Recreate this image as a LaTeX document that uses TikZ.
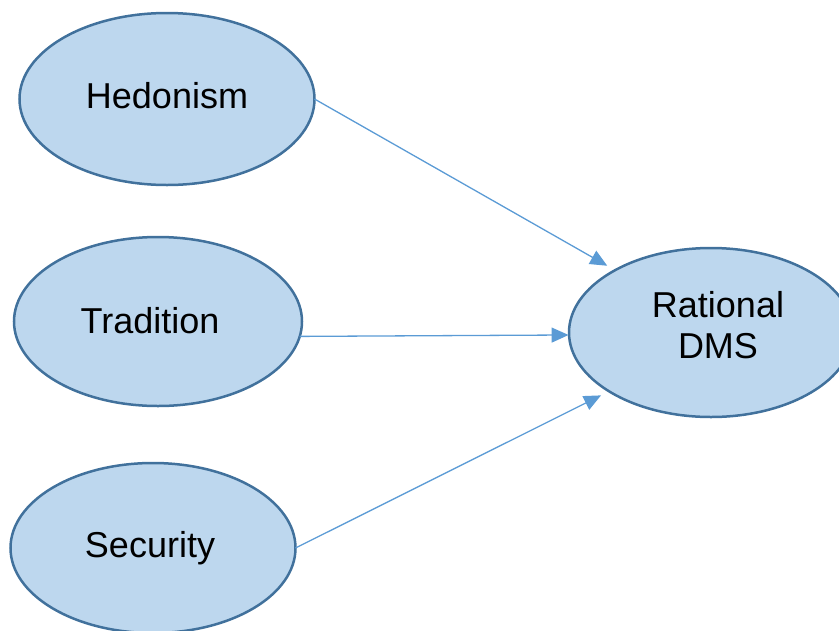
\documentclass[tikz,border=0pt]{standalone}
\usepackage{fontspec}
\setmainfont{Liberation Sans}
\usetikzlibrary{shapes.geometric,arrows.meta}
\definecolor{ellfill}{HTML}{BDD7EE}
\definecolor{ellborder}{HTML}{41719C}
\definecolor{linkblue}{HTML}{5B9BD5}
\begin{document}
\begin{tikzpicture}[x=1pt,y=-1pt,
  construct/.style={ellipse, draw=ellborder, fill=ellfill, line width=2.5pt,
    inner sep=0pt, outer sep=0pt},
  caption/.style={font=\fontsize{36}{41}\selectfont, align=center, inner sep=0pt},
  link/.style={draw=linkblue, line width=1.3pt, -{Triangle[length=17pt,width=15pt]}}]
\useasboundingbox (0,0) rectangle (839,630);

% constructs
\node[construct, minimum width=295pt, minimum height=172pt,
  label={[caption, yshift=3pt]center:Hedonism}] (hed) at (167,99) {};
\node[construct, minimum width=288pt, minimum height=169pt,
  label={[caption, xshift=-8pt, yshift=1pt]center:Tradition}] (tra) at (158,321.5) {};
\node[construct, minimum width=285pt, minimum height=170pt,
  label={[caption, xshift=-3pt]center:Security}] (sec) at (153,548) {};
\node[construct, minimum width=284pt, minimum height=169pt,
  label={[caption, xshift=7pt, yshift=7pt]center:{Rational\\DMS}}] (dms) at (711,332.5) {};

% paths into the outcome
\draw[link, shorten >=9pt] (hed.east) -- (dms.147);
\draw[link, shorten >=0.5pt] (tra.-6) -- (dms.181);
\draw[link, shorten >=9pt] (sec.east) -- (dms.210.6);
\end{tikzpicture}
\end{document}
